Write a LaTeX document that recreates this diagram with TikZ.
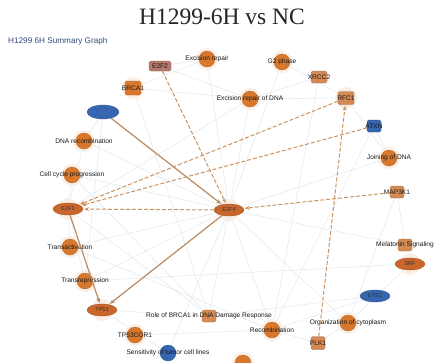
\documentclass[tikz,border=0pt]{standalone}
\usepackage{fontspec}
\setmainfont{Liberation Serif}
\setsansfont{Liberation Sans}
\usetikzlibrary{arrows.meta,shapes.geometric}
\definecolor{fnorange}{HTML}{D9782D}
\definecolor{gnorange}{HTML}{C8662C}
\definecolor{rectorange}{HTML}{D38A55}
\definecolor{purpbrown}{HTML}{B5786C}
\definecolor{nblue}{HTML}{3566AE}
\definecolor{dashc}{HTML}{CB9562}
\definecolor{solidc}{HTML}{B88C64}
\definecolor{subblue}{HTML}{2E4C7C}
\definecolor{faint}{HTML}{E8EAEE}
\tikzset{
  glow/.style={circle, fill=fnorange!12, draw=none, minimum size=22pt, inner sep=0pt},
  fn/.style={circle, fill=fnorange, draw=fnorange!85!black, line width=0.3pt, minimum size=16pt, inner sep=0pt},
  fnblue/.style={circle, fill=nblue, draw=nblue!80!black, line width=0.3pt, minimum size=16pt, inner sep=0pt},
  gell/.style={ellipse, fill=gnorange, draw=gnorange!80!black, line width=0.3pt, minimum width=30pt, minimum height=12pt, inner sep=0pt, font=\sffamily\fontsize{5.5}{6}\selectfont, text=black!80},
  gellb/.style={gell, fill=nblue, draw=nblue!80!black},
  grect/.style={rectangle, rounded corners=1.5pt, fill=rectorange, draw=rectorange!80!black, line width=0.3pt, minimum width=14pt, minimum height=12pt, inner sep=0pt},
  lbl/.style={font=\sffamily\fontsize{6.6}{7}\selectfont, text=black!90, inner sep=0pt},
  dedge/.style={dashc, line width=1pt, dash pattern=on 4pt off 2pt, -{Stealth[length=5pt,width=4pt]}, shorten >=1pt},
  sedge/.style={solidc, line width=1.2pt, -{Stealth[length=5pt,width=4pt]}, shorten >=1pt},
  fedge/.style={faint, line width=0.6pt},
}
\begin{document}
\begin{tikzpicture}[x=1pt,y=-1pt]
\useasboundingbox (0,0) rectangle (445,362);
\fill[white] (0,0) rectangle (445,362);

% coordinates of nodes
\coordinate (cE2F2) at (160,66);
\coordinate (cExc) at (207,59);
\coordinate (cG2) at (282,62);
\coordinate (cXRCC) at (319,77);
\coordinate (cBRCA) at (133,88);
\coordinate (cExcDNA) at (250,99);
\coordinate (cRFC) at (346,98);
\coordinate (cBlue1) at (103,112);
\coordinate (cATXN) at (374,126);
\coordinate (cDNArec) at (84,141);
\coordinate (cJoin) at (389,158);
\coordinate (cCCP) at (72,175);
\coordinate (cMAP) at (397,192);
\coordinate (cE2F1) at (68,209);
\coordinate (cHub) at (229,210);
\coordinate (cMel) at (405,245);
\coordinate (cTA) at (70,247);
\coordinate (cSRF) at (410,264);
\coordinate (cTR) at (85,281);
\coordinate (cBlue2) at (375,296);
\coordinate (cTP53) at (102,310);
\coordinate (cBRCArole) at (209,316);
\coordinate (cOrg) at (348,323);
\coordinate (cRec) at (272,330);
\coordinate (cTPC) at (135,335);
\coordinate (cPLK) at (318,343);
\coordinate (cSens) at (168,353);
\coordinate (cBot) at (243,363);

% faint background network
\foreach \a/\b in {cHub/cExcDNA, cHub/cExc, cHub/cG2, cHub/cJoin, cHub/cRec, cHub/cBRCArole, cHub/cOrg, cHub/cTA, cHub/cTR, cHub/cDNArec, cHub/cCCP, cHub/cSens, cHub/cMel,
  cE2F1/cDNArec, cE2F1/cCCP, cE2F1/cTA, cE2F1/cTR, cE2F1/cBRCArole, cE2F1/cExcDNA,
  cRFC/cExcDNA, cRFC/cG2, cRFC/cJoin, cXRCC/cExcDNA, cXRCC/cRec, cBRCA/cExcDNA, cBRCA/cExc, cBRCA/cBRCArole,
  cSRF/cOrg, cSRF/cTR, cBlue2/cBRCArole, cBlue2/cRec, cMAP/cMel, cMAP/cOrg, cATXN/cJoin, cATXN/cRec,
  cTP53/cSens, cTP53/cBRCArole, cTPC/cRec, cPLK/cRec, cPLK/cOrg, cE2F2/cExc, cE2F2/cExcDNA, cBlue1/cDNArec, cBlue1/cTR, cTA/cRec, cCCP/cBRCArole}
  {\draw[fedge] (\a) -- (\b);}

% glows
\foreach \c in {cExc,cG2,cExcDNA,cDNArec,cJoin,cCCP,cTA,cTR,cOrg,cRec,cTPC,cBot,cE2F1,cHub,cTP53,cSRF,cRFC,cBRCA}
  {\node[glow] at (\c) {};}

% title and subtitle
\node[font=\fontsize{23.5}{26}\selectfont, text=black!85] (title) at (222,17) {H1299-6H vs NC};
\node[anchor=west, font=\sffamily\fontsize{8.2}{9}\selectfont, text=subblue, inner sep=0pt] (sub) at (8,41) {H1299 6H Summary Graph};

% function nodes (circles with overlapping labels)
\node[fn] (fExc) at (cExc) {};
\node[lbl] (lExc) at (cExc) {Excision repair};
\node[fn] (fG2) at (cG2) {};
\node[lbl] (lG2) at (cG2) {G2 phase};
\node[fn] (fExcDNA) at (cExcDNA) {};
\node[lbl] (lExcDNA) at (cExcDNA) {Excision repair of DNA};
\node[fn] (fDNArec) at (cDNArec) {};
\node[lbl] (lDNArec) at (cDNArec) {DNA recombination};
\node[fn] (fJoin) at (cJoin) {};
\node[lbl] (lJoin) at (cJoin) {Joining of DNA};
\node[fn] (fCCP) at (cCCP) {};
\node[lbl] (lCCP) at (cCCP) {Cell cycle progression};
\node[fn] (fTA) at (cTA) {};
\node[lbl] (lTA) at (cTA) {Transactivation};
\node[fn] (fTR) at (cTR) {};
\node[lbl] (lTR) at (cTR) {Transrepression};
\node[fn] (fOrg) at (cOrg) {};
\node[lbl] (lOrg) at (cOrg) {Organization of cytoplasm};
\node[fn] (fRec) at (cRec) {};
\node[lbl] (lRec) at (cRec) {Recombination};
\node[fn] (fTPC) at (cTPC) {};
\node[lbl] (lTPC) at (cTPC) {TP53COR1};
\node[fnblue] (fSens) at (cSens) {};
\node[lbl] (lSens) at (cSens) {Sensitivity of tumor cell lines};
\node[fn] (fBot) at (cBot) {};

% pathway nodes (squares)
\node[grect] (pBRCA) at (cBRCArole) {};
\node[lbl] (lBRCArole) at (cBRCArole) {Role of BRCA1 in DNA Damage Response};
\node[grect] (pMel) at (cMel) {};
\node[lbl] (lMel) at (cMel) {Melatonin Signaling};

% gene nodes
\node[grect, fill=purpbrown, draw=purpbrown!80!black, minimum width=22pt, minimum height=10pt] (gE2F2) at (cE2F2) {};
\node[lbl] (lE2F2) at (cE2F2) {E2F2};
\node[grect, minimum width=16pt] (gXRCC) at (cXRCC) {};
\node[lbl] (lXRCC) at (cXRCC) {XRCC2};
\node[grect, fill=fnorange, minimum width=16pt, minimum height=14pt] (gBRCA) at (cBRCA) {};
\node[lbl] (lBRCA) at (cBRCA) {BRCA1};
\node[grect, minimum width=16pt, minimum height=13pt] (gRFC) at (cRFC) {};
\node[lbl] (lRFC) at (cRFC) {RFC1};
\node[gellb, minimum width=32pt, minimum height=14pt] (gBlue1) at (cBlue1) {};
\node[grect, fill=nblue, draw=nblue!80!black, minimum width=14pt] (gATXN) at (cATXN) {};
\node[lbl] (lATXN) at (cATXN) {ATXN};
\node[grect] (gMAP) at (cMAP) {};
\node[lbl] (lMAP) at (cMAP) {MAP3K1};
\node[gell] (gE2F1) at (cE2F1) {E2F1};
\node[gell] (gHub) at (cHub) {E2F4};
\node[gell] (gSRF) at (cSRF) {SRF};
\node[gellb] (gBlue2) at (cBlue2) {ETS1};
\node[gell] (gTP53) at (cTP53) {TP53};
\node[grect, minimum width=14pt, minimum height=13pt] (gPLK) at (cPLK) {};
\node[lbl] (lPLK) at (cPLK) {PLK1};

% main connectors
\draw[dedge] (gE2F2) -- (gHub);
\draw[sedge] (gBlue1) -- (gHub);
\draw[dedge] (gHub) -- (gE2F1);
\draw[dedge] (gRFC) -- (gE2F1);
\draw[dedge] (gATXN) -- (gE2F1);
\draw[dedge] (gMAP) -- (gHub);
\draw[sedge] (gHub) -- (gTP53);
\draw[sedge] (gE2F1) -- (gTP53);
\draw[dedge] (gPLK) -- (gRFC);
\end{tikzpicture}
\end{document}
